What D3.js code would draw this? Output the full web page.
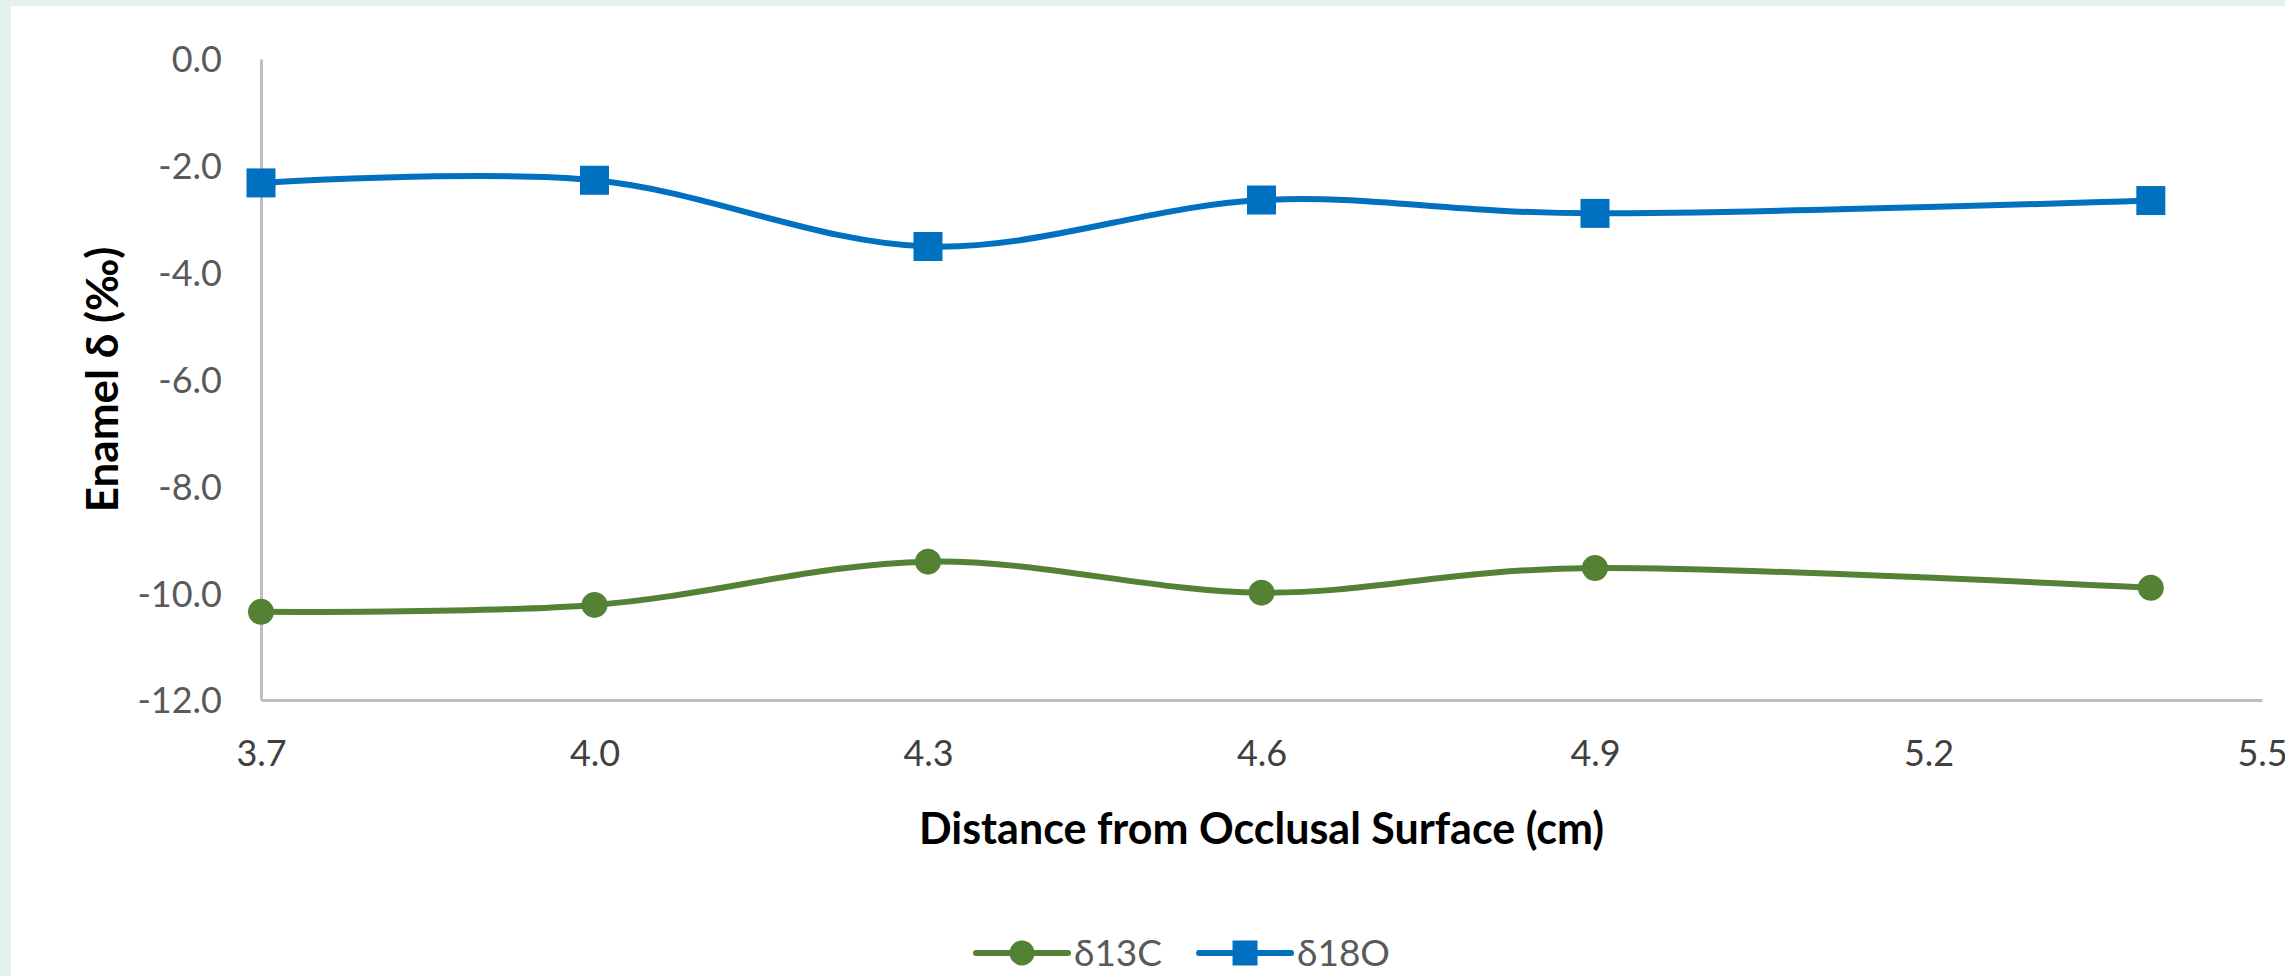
<!DOCTYPE html>
<html>
<head>
<meta charset="utf-8">
<script src="https://cdn.jsdelivr.net/npm/d3@7"></script>
<style>
  html, body { margin: 0; padding: 0; background: #e3f1ec; }
  svg { display: block; }
</style>
</head>
<body>
<svg id="chart" width="2285" height="976"></svg>
<script>
// ---- data ----
const distances = [3.7, 4.0, 4.3, 4.6, 4.9, 5.4];
const d13C = [-10.35, -10.22, -9.41, -9.99, -9.53, -9.90];
const d18O = [-2.32, -2.27, -3.51, -2.64, -2.89, -2.65];
const seriesNames = ["δ13C", "δ18O"];
const xTicks = [3.7, 4.0, 4.3, 4.6, 4.9, 5.2, 5.5];
const yTicks = [0, -2, -4, -6, -8, -10, -12];
const xTitle = "Distance from Occlusal Surface (cm)";
const yTitle = "Enamel δ (‰)";

// ---- layout ----
const W = 2285, H = 976;
const plot = { left: 261, right: 2262, top: 59, bottom: 700 };
const colors = { c: "#548235", o: "#0070C0" };
const FONT = "Lato, 'Open Sans', sans-serif";

const svg = d3.select("#chart");
svg.append("rect").attr("x", 11).attr("y", 6).attr("width", W - 11).attr("height", H - 6).attr("fill", "#ffffff");

const x = d3.scaleLinear().domain([3.7, 5.5]).range([plot.left, plot.right]);
const y = d3.scaleLinear().domain([-12, 0]).range([plot.bottom, plot.top]);

// axes
const fmt = d => d.toFixed(1);
const yAxis = svg.append("g").attr("transform", `translate(${plot.left},0)`)
  .call(d3.axisLeft(y).tickValues(yTicks).tickFormat(fmt).tickSize(0).tickSizeOuter(0).tickPadding(39));
const xAxis = svg.append("g").attr("transform", `translate(0,${plot.bottom})`)
  .call(d3.axisBottom(x).tickValues(xTicks).tickFormat(fmt).tickSize(0).tickSizeOuter(0).tickPadding(40));

[yAxis, xAxis].forEach(g => {
  g.select(".domain").attr("stroke", "#bfbfbf").attr("stroke-width", 3);
  g.selectAll("text").attr("font-family", FONT).attr("font-size", 36);
});
yAxis.selectAll("text").attr("fill", "#595959").attr("dy", "0.36em");
xAxis.selectAll("text").attr("fill", "#404040").attr("dy", "0.71em");

// titles
svg.append("text")
  .attr("x", (plot.left + plot.right) / 2).attr("y", 844)
  .attr("text-anchor", "middle").attr("font-family", FONT).attr("font-weight", "bold")
  .attr("font-size", 43).attr("fill", "#000").text(xTitle);
svg.append("text")
  .attr("transform", `translate(118,${(plot.top + plot.bottom) / 2}) rotate(-90)`)
  .attr("text-anchor", "middle").attr("font-family", FONT).attr("font-weight", "bold")
  .attr("font-size", 44).attr("fill", "#000").text(yTitle);

// lines
const line = d3.line().x(d => x(d[0])).y(d => y(d[1])).curve(d3.curveCardinal.tension(0));
const dataC = distances.map((d, i) => [d, d13C[i]]);
const dataO = distances.map((d, i) => [d, d18O[i]]);

svg.append("path").datum(dataC).attr("d", line).attr("fill", "none")
  .attr("stroke", colors.c).attr("stroke-width", 6).attr("stroke-linejoin", "round");
svg.append("path").datum(dataO).attr("d", line).attr("fill", "none")
  .attr("stroke", colors.o).attr("stroke-width", 6).attr("stroke-linejoin", "round");

// markers
svg.append("g").selectAll("circle").data(dataC).join("circle")
  .attr("cx", d => x(d[0])).attr("cy", d => y(d[1])).attr("r", 13).attr("fill", colors.c);
const sq = 29;
svg.append("g").selectAll("rect").data(dataO).join("rect")
  .attr("x", d => x(d[0]) - sq / 2).attr("y", d => y(d[1]) - sq / 2)
  .attr("width", sq).attr("height", sq).attr("fill", colors.o);

// legend
const legY = 953;
let lx = 976;
const leg = svg.append("g");
seriesNames.forEach((name, i) => {
  const col = i === 0 ? colors.c : colors.o;
  leg.append("line").attr("x1", lx).attr("x2", lx + 92).attr("y1", legY).attr("y2", legY)
    .attr("stroke", col).attr("stroke-width", 6).attr("stroke-linecap", "round");
  if (i === 0) {
    leg.append("circle").attr("cx", lx + 46).attr("cy", legY).attr("r", 12.5).attr("fill", col);
  } else {
    leg.append("rect").attr("x", lx + 46 - 12.5).attr("y", legY - 12.5).attr("width", 25).attr("height", 25).attr("fill", col);
  }
  const t = leg.append("text").attr("x", lx + 98).attr("y", legY).attr("dy", "0.36em")
    .attr("font-family", FONT).attr("font-size", 37).attr("fill", "#595959").text(name);
  lx = lx + 98 + t.node().getComputedTextLength() + 37;
});
</script>
</body>
</html>
